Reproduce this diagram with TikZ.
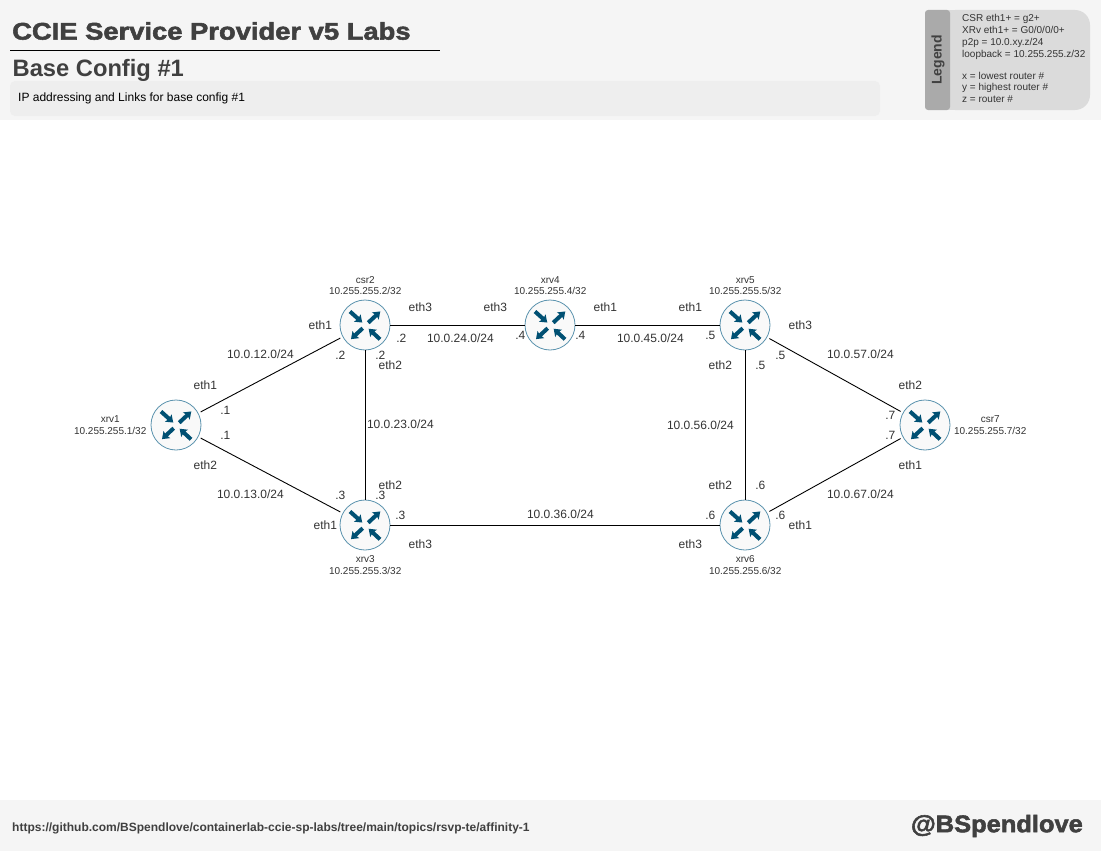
\documentclass[tikz,border=0pt]{standalone}
\usepackage{fontspec}
\setmainfont{Liberation Sans}
\newfontfamily\titlefont[FakeStretch=1.14,FakeBold=2.2]{Liberation Sans Bold}
\newfontfamily\handlefont[FakeStretch=1.06,FakeBold=2.2]{Liberation Sans Bold}
\definecolor{bandgrey}{HTML}{F5F5F5}
\definecolor{subgrey}{HTML}{EEEEEE}
\definecolor{legendbody}{HTML}{DBDBDB}
\definecolor{legendtab}{HTML}{AAAAAA}
\definecolor{inkgrey}{HTML}{333333}
\definecolor{headgrey}{HTML}{404040}
\definecolor{routerfill}{HTML}{F9F9F9}
\definecolor{routerring}{HTML}{5B93AE}
\definecolor{routericon}{HTML}{005073}
\newcommand{\iconarrow}[5]{%
  \begin{scope}[shift={(#1.center)}]
  \begin{scope}[xshift=#2pt,yshift=#3pt,rotate=#4]
    \fill[routericon]
      (0pt,-2pt) -- (#5pt-6pt,-2pt) -- (#5pt-6.8pt,-5pt) -- (#5pt,0pt) -- (#5pt-6.8pt,5pt) -- (#5pt-6pt,2pt) -- (0pt,2pt) -- cycle;
  \end{scope}
  \end{scope}}
\newcommand{\routericons}[1]{%
  \iconarrow{#1}{-15}{13.5}{-42}{16.5}
  \iconarrow{#1}{3.2}{2.3}{43}{16.5}
  \iconarrow{#1}{-2.3}{-3.2}{-137}{16}
  \iconarrow{#1}{15}{-14.3}{137}{15.5}}
\tikzset{
  router/.style={circle,draw=routerring,fill=routerfill,line width=0.8pt,inner sep=0pt,minimum size=50pt},
  link/.style={draw=black,line width=0.9pt},
  slant/.style={link,shorten <=2.5pt,shorten >=2.5pt},
  lbl/.style={font=\fontsize{12}{12}\selectfont,text=inkgrey,inner sep=0pt,text height=8.6pt,text depth=2.4pt,anchor=center},
  small/.style={font=\fontsize{10}{10}\selectfont,text=inkgrey,inner sep=0pt,text height=7.2pt,text depth=2pt,anchor=center}
}
\begin{document}
\begin{tikzpicture}[x=1pt,y=-1pt]
\useasboundingbox (0,0) rectangle (1101,851);
\fill[white] (0,0) rectangle (1101,851);
\fill[bandgrey] (0,0) rectangle (1101,120);
\fill[bandgrey] (0,800) rectangle (1101,851);
\fill[subgrey,rounded corners=5pt] (10,81) rectangle (880,116);
\coordinate (ruleA) at (10,50);
\coordinate (ruleB) at (440,50);
\draw[black,line width=0.9pt] (ruleA) -- (ruleB);
\node[anchor=west,inner sep=0pt,text=headgrey,font=\fontsize{24}{24}\titlefont] (title) at (12,31) {CCIE Service Provider v5 Labs};
\node[anchor=west,inner sep=0pt,text=headgrey,font=\fontsize{23.7}{24}\bfseries] (subtitle) at (12.5,70.3) {Base Config \#1};
\node[anchor=west,inner sep=0pt,text=black,font=\fontsize{12}{12}\selectfont] (subnote) at (18,98) {IP addressing and Links for base config \#1};
% legend
\fill[legendbody,rounded corners=15pt] (940,10) -- (1090,10) -- (1090,110) -- (940,110) -- cycle;
\fill[legendbody] (940,10) rectangle (960,110);
\fill[legendtab,rounded corners=3pt] (925,10) rectangle (950,110);
\node[rotate=90,inner sep=0pt,text=headgrey,font=\fontsize{14}{14}\bfseries] (legendtitle) at (938,60) {Legend};
\node[anchor=north west,inner sep=0pt,align=left,text=inkgrey,font=\fontsize{10}{11.9}\selectfont] (legendtext) at (962,14.2)
 {CSR eth1+ = g2+\\XRv eth1+ = G0/0/0/0+\\p2p = 10.0.xy.z/24\\loopback = 10.255.255.z/32\\[0pt]\strut\\[-2.1pt]x = lowest router \#\\y = highest router \#\\z = router \#};
% footer
\node[anchor=west,inner sep=0pt,text=headgrey,font=\fontsize{12}{12}\bfseries] (url) at (12,828) {https://github.com/BSpendlove/containerlab-ccie-sp-labs/tree/main/topics/rsvp-te/affinity-1};
\node[anchor=east,inner sep=0pt,text=headgrey,font=\fontsize{24}{24}\handlefont] (handle) at (1083,826) {@BSpendlove};
% routers
\node[router] (xrv1) at (176,425) {};
\node[router] (csr2) at (365,325) {};
\node[router] (xrv3) at (365,525) {};
\node[router] (xrv4) at (550,325) {};
\node[router] (xrv5) at (745,325) {};
\node[router] (xrv6) at (745,525) {};
\node[router] (csr7) at (925,425) {};
\routericons{xrv1}\routericons{csr2}\routericons{xrv3}\routericons{xrv4}\routericons{xrv5}\routericons{xrv6}\routericons{csr7}
% links
\draw[slant] (xrv1) -- (csr2);
\draw[slant] (xrv1) -- (xrv3);
\draw[link] (csr2) -- (xrv3);
\draw[link] (csr2) -- (xrv4);
\draw[link] (xrv4) -- (xrv5);
\draw[link] (xrv3) -- (xrv6);
\draw[link] (xrv5) -- (xrv6);
\draw[slant] (xrv5) -- (csr7);
\draw[slant] (xrv6) -- (csr7);
% small router captions
\foreach \x/\y/\t [count=\i] in {
 110/420/xrv1,110/432/10.255.255.1\slash 32,
 365/280.8/csr2,365/291.5/10.255.255.2\slash 32,
 365/559.8/xrv3,365/571.5/10.255.255.3\slash 32,
 550/280.8/xrv4,550/291.5/10.255.255.4\slash 32,
 745/280.8/xrv5,745/291.5/10.255.255.5\slash 32,
 745/559.8/xrv6,745/571.5/10.255.255.6\slash 32,
 990/420/csr7,990/432/10.255.255.7\slash 32}
 \node[small,xshift=0.2pt,yshift=-0.3pt] (cap\i) at (\x,\y) {\t};
% link labels
\foreach \x/\y/\t [count=\i] in {
 205/385/eth1,225/410/.1,225/435/.1,205/465/eth2,
 260/354/10.0.12.0\slash 24,250/494/10.0.13.0\slash 24,
 340/495/.3,325/525/eth1,320/325/eth1,340/355/.2,
 380/355/.2,390/365/eth2,401/338/.2,420/307/eth3,495/307/eth3,
 460/338/10.0.24.0\slash 24,520/335/.4,580/335/.4,605/307/eth1,690/307/eth1,
 650/338/10.0.45.0\slash 24,710/335/.5,800/325/eth3,780/355/.5,720/365/eth2,760/365/.5,
 860/354/10.0.57.0\slash 24,910/385/eth2,890/415/.7,890/435/.7,910/465/eth1,
 860/494/10.0.67.0\slash 24,700/425/10.0.56.0\slash 24,400/424/10.0.23.0\slash 24,
 390/485/eth2,380/495/.3,400/515/.3,560/514/10.0.36.0\slash 24,420/544/eth3,690/544/eth3,
 710/515/.6,720/485/eth2,760/485/.6,780/515/.6,800/525/eth1}
 \node[lbl,xshift=0.4pt,yshift=-1.6pt] (lab\i) at (\x,\y) {\t};
\end{tikzpicture}
\end{document}
